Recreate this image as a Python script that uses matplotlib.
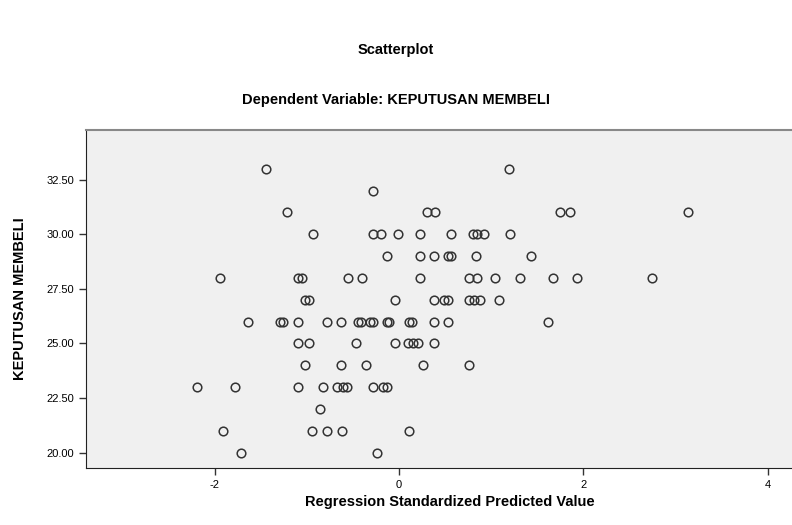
import matplotlib.pyplot as plt

# --- DATA (one list per row of the dependent variable) ---
y_levels = [33, 32, 31, 30, 29, 28, 27, 26, 25, 24, 23, 22, 21, 20]
x_by_level = [
    [-1.441, 1.194],
    [-0.278],
    [-1.214, 0.305, 0.386, 1.742, 1.856, 3.136],
    [-0.937, -0.281, -0.194, -0.010, 0.229, 0.565, 0.800, 0.850, 0.923, 1.205],
    [-0.129, 0.229, 0.375, 0.527, 0.560, 0.836, 1.430],
    [-1.940, -1.094, -1.056, -0.549, -0.397, 0.229, 0.760, 0.850, 1.042, 1.313,
     1.666, 1.935, 2.748],
    [-1.018, -0.980, -0.042, 0.375, 0.489, 0.527, 0.760, 0.815, 0.880, 1.080],
    [-1.633, -1.290, -1.260, -1.100, -0.783, -0.631, -0.440, -0.411, -0.313, -0.284,
     -0.132, -0.104, 0.104, 0.139, 0.375, 0.529, 1.612],
    [-1.091, -0.975, -0.469, -0.042, 0.102, 0.153, 0.207, 0.375],
    [-1.018, -0.628, -0.360, 0.265, 0.764],
    [-2.187, -1.778, -1.091, -0.820, -0.668, -0.603, -0.560, -0.284, -0.169, -0.126],
    [-0.856],
    [-1.905, -0.939, -0.783, -0.620, 0.110],
    [-1.713, -0.241],
]
x_ticks = [-2, 0, 2, 4]
y_ticks = [20.0, 22.5, 25.0, 27.5, 30.0, 32.5]

pred = [x for row in x_by_level for x in row]
dep = [y for y, row in zip(y_levels, x_by_level) for _ in row]

plt.rcParams['font.family'] = ['Liberation Sans', 'DejaVu Sans']
plt.rcParams['axes.unicode_minus'] = False

fig = plt.figure(figsize=(7.92, 5.25), dpi=100)
ax = fig.add_axes([0.1086, 0.1086, 0.919, 0.6438])
ax.set_facecolor('#f0f0f0')

ax.plot(pred, dep, linestyle='none', marker='o', markersize=6.2,
        markerfacecolor='none', markeredgecolor='#333333', markeredgewidth=1.1)

ax.set_xlim(-3.394, 4.5)
ax.set_ylim(19.30, 34.77)
ax.set_xticks(x_ticks)
ax.set_yticks(y_ticks)
ax.set_yticklabels([f'{v:.2f}' for v in y_ticks])
ax.tick_params(axis='both', direction='out', length=5, width=1, labelsize=8,
               color='#333333')

ax.spines['top'].set_color('#888888')
ax.spines['top'].set_linewidth(1.5)
ax.spines['left'].set_color('#222222')
ax.spines['bottom'].set_color('#222222')
ax.spines['right'].set_visible(False)

ax.set_xlabel('Regression Standardized Predicted Value', fontsize=10.5,
              fontweight='bold', labelpad=4)
ax.set_ylabel('KEPUTUSAN MEMBELI', fontsize=10.5, fontweight='bold', labelpad=14)

fig.text(0.5, 0.905, 'Scatterplot', ha='center', va='center', fontsize=10.5,
         fontweight='bold')
fig.text(0.5, 0.81, 'Dependent Variable: KEPUTUSAN MEMBELI', ha='center',
         va='center', fontsize=10.5, fontweight='bold')

fig.savefig('out.png', dpi=100, facecolor='white')
